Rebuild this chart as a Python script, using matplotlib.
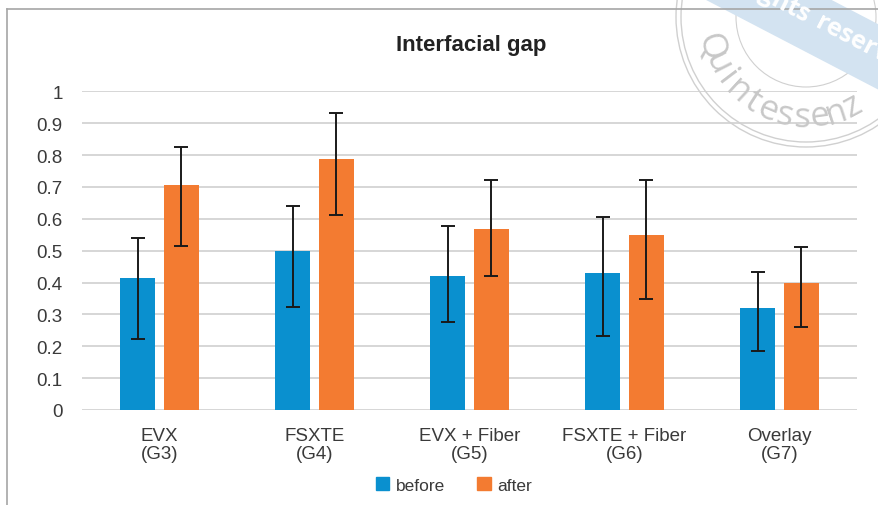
import matplotlib
matplotlib.use("Agg")
import matplotlib.pyplot as plt
import numpy as np
from matplotlib.patches import Patch, Circle, Polygon

plt.rcParams['font.family'] = ['Liberation Sans', 'DejaVu Sans']

# Data
groups = ["EVX\n(G3)", "FSXTE\n(G4)", "EVX + Fiber\n(G5)", "FSXTE + Fiber\n(G6)", "Overlay\n(G7)"]
before_mean = [0.413, 0.500, 0.421, 0.430, 0.320]
before_low = [0.223, 0.322, 0.277, 0.233, 0.186]
before_high = [0.540, 0.641, 0.578, 0.607, 0.432]
after_mean = [0.706, 0.788, 0.568, 0.549, 0.397]
after_low = [0.516, 0.613, 0.421, 0.348, 0.261]
after_high = [0.826, 0.931, 0.722, 0.722, 0.511]
yticks = [0, 0.1, 0.2, 0.3, 0.4, 0.5, 0.6, 0.7, 0.8, 0.9, 1]
yticklabels = ["0", "0.1", "0.2", "0.3", "0.4", "0.5", "0.6", "0.7", "0.8", "0.9", "1"]

blue = "#0a90cf"
orange = "#f37b31"
text_col = "#3a3a3a"

W, H = 879, 506
fig = plt.figure(figsize=(W / 100, H / 100), dpi=100)
ax = fig.add_axes([82 / W, 1 - 411 / H, (857 - 82) / W, (411 - 92.3) / H])

x = np.arange(len(groups))
bw = 0.23
off = 0.141

b_err = [np.array(before_mean) - np.array(before_low), np.array(before_high) - np.array(before_mean)]
a_err = [np.array(after_mean) - np.array(after_low), np.array(after_high) - np.array(after_mean)]

ax.bar(x - off, before_mean, bw, color=blue, zorder=2)
ax.bar(x + off, after_mean, bw, color=orange, zorder=2)
ax.errorbar(x - off, before_mean, yerr=b_err, fmt="none", ecolor="#1a1a1a",
            elinewidth=1.4, capsize=5, capthick=1.4, zorder=3)
ax.errorbar(x + off, after_mean, yerr=a_err, fmt="none", ecolor="#1a1a1a",
            elinewidth=1.4, capsize=5, capthick=1.4, zorder=3)

ax.set_xlim(-0.5, len(groups) - 0.5)
ax.set_ylim(0, 1)
ax.set_yticks(yticks)
ax.set_yticklabels(yticklabels)
ax.set_xticks(x)
ax.set_xticklabels(groups, linespacing=1.1)
ax.tick_params(length=0, labelsize=13.5, colors=text_col)
ax.tick_params(axis="y", pad=14)
ax.tick_params(axis="x", pad=12)
for s in ax.spines.values():
    s.set_visible(False)
ax.yaxis.grid(True, color="#d6d6d6", linewidth=1.4, zorder=0)
ax.set_axisbelow(True)

fig.text(471 / W, 1 - 45 / H, "Interfacial gap", ha="center", va="center",
         fontsize=16, fontweight="bold", color="#222222")

handles = [Patch(color=blue, label="before"), Patch(color=orange, label="after")]
fig.legend(handles=handles, loc="center", bbox_to_anchor=(454 / W, 1 - 486 / H), ncol=2,
           frameon=False, fontsize=12.5, handlelength=0.8, handleheight=0.8,
           handletextpad=0.4, columnspacing=1.8, labelcolor=text_col)

# overlay in pixel coordinates: frame and watermark stamp
ov = fig.add_axes([0, 0, 1, 1], zorder=5)
ov.set_xlim(0, W)
ov.set_ylim(H, 0)
ov.axis("off")
ov.patch.set_alpha(0)
ov.plot([7, 7], [10, H], color="#a6a6a6", lw=1.2)
ov.plot([7, W], [10, 10], color="#a6a6a6", lw=1.2)

cx, cy = 806, 18
for r, lw in [(125, 1.0), (130, 1.0), (70, 0.8)]:
    ov.add_patch(Circle((cx, cy), r, fill=False, ec="#d0d0d0", lw=lw))

# blue ribbon
ang_deg = 27.5
ang = np.deg2rad(ang_deg)
d = np.array([np.cos(ang), np.sin(ang)])
n = np.array([-np.sin(ang), np.cos(ang)])
c0 = np.array([815.0, 25.0])
hw = 29
pts = [c0 - 250 * d - hw * n, c0 + 250 * d - hw * n, c0 + 250 * d + hw * n, c0 - 250 * d + hw * n]
ov.add_patch(Polygon(pts, closed=True, fc="#d3e3f1", ec="none"))
t0 = c0 - 4 * n
ov.text(t0[0], t0[1], "reserved", rotation=-ang_deg, rotation_mode="anchor",
        ha="left", va="center", fontsize=18, fontweight="bold", color="white",
        family="Open Sans")
p1 = t0 - 10 * d
ov.text(p1[0], p1[1], "All rights", rotation=-ang_deg, rotation_mode="anchor",
        ha="right", va="center", fontsize=18, fontweight="bold", color="white",
        family="Open Sans")

word = "Quintessenz"
for i, ch in enumerate(word):
    th = np.deg2rad(-163 + i * 10.1)
    px = cx + 100 * np.cos(th)
    py = cy - 100 * np.sin(th)
    ov.text(px, py, ch, rotation=np.rad2deg(th) + 90, ha="center", va="center",
            fontsize=25, color="#c8c8c8", family="Open Sans")

fig.savefig("out.png", dpi=100)
